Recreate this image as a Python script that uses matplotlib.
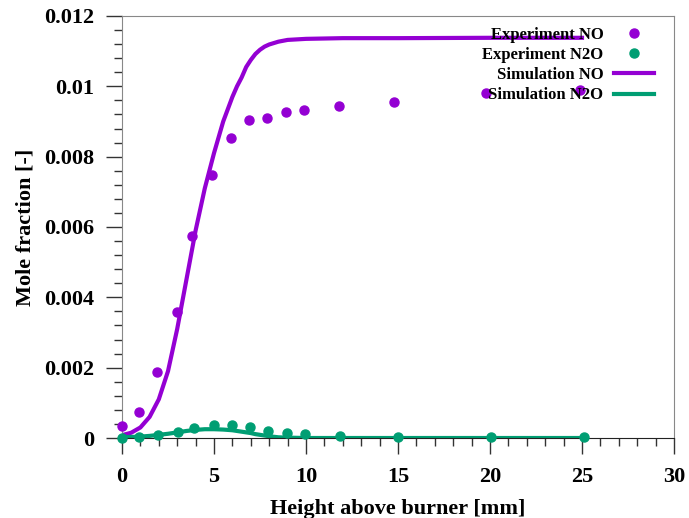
import matplotlib
matplotlib.use('Agg')
import matplotlib.pyplot as plt
import matplotlib.ticker as ticker

plt.rcParams['font.family'] = ['Liberation Serif', 'DejaVu Serif']
plt.rcParams['font.weight'] = 'bold'

# Experimental data
exp_no_x = [0, 0.9, 1.9, 3.0, 3.8, 4.9, 5.95, 6.9, 7.9, 8.9, 9.9, 11.8, 14.8, 19.8, 24.9]
exp_no_y = [0.00034, 0.00074, 0.00188, 0.00357, 0.00575, 0.00747, 0.00853, 0.00904,
            0.00909, 0.00928, 0.00934, 0.00944, 0.00955, 0.0098, 0.0099]
exp_n2o_x = [0, 0.9, 1.95, 3.05, 3.9, 5.0, 6.0, 6.95, 7.95, 8.95, 9.95, 11.85, 15.0, 20.05, 25.1]
exp_n2o_y = [0.0, 0.00002, 0.00008, 0.00017, 0.00029, 0.00036, 0.00036, 0.0003,
             0.00019, 0.00013, 0.0001, 0.00005, 0.00004, 0.00002, 0.00002]

# Simulation data
sim_x = [0, 0.5, 1, 1.5, 2, 2.5, 3, 3.5, 4, 4.5, 5, 5.5, 6, 6.25, 6.5, 6.75, 7, 7.25, 7.5,
         7.75, 8, 8.5, 9, 10, 12, 15, 20, 25]
sim_no = [0.00008, 0.00015, 0.0003, 0.0006, 0.0011, 0.0019, 0.0031, 0.0045, 0.0059, 0.0071,
          0.0081, 0.0090, 0.0097, 0.0100, 0.01025, 0.01055, 0.01075, 0.01092, 0.01104,
          0.01113, 0.01119, 0.01127, 0.01132, 0.01135, 0.01137, 0.01137, 0.01138, 0.01138]
sim_n2o = [0.00002, 0.00003, 0.00004, 0.00006, 0.00009, 0.00012, 0.00016, 0.0002, 0.00023, 0.00025,
           0.00025, 0.00024, 0.00022, 0.0002, 0.00018, 0.00016, 0.00014, 0.00011, 0.00009,
           0.00007, 0.00005, 0.00002, 0.00001, 0.0, 0.0, 0.0, 0.0, 0.0]

purple = '#9400D3'
green = '#009E73'

fig = plt.figure(figsize=(6.89, 5.18), dpi=100)
ax = fig.add_axes([122 / 689, 1 - 438 / 518, (674 - 122) / 689, (438 - 16) / 518])

ax.plot(exp_no_x, exp_no_y, 'o', color=purple, markersize=6.5, label='Experiment NO', clip_on=False, zorder=3)
ax.plot(exp_n2o_x, exp_n2o_y, 'o', color=green, markersize=6.5, label='Experiment N2O', clip_on=False, zorder=3)
ax.plot(sim_x, sim_no, '-', color=purple, linewidth=3, label='Simulation NO', zorder=2)
ax.plot(sim_x, sim_n2o, '-', color=green, linewidth=3, label='Simulation N2O', zorder=2)

ax.set_xlim(0, 30)
ax.set_ylim(0, 0.012)
ax.xaxis.set_major_locator(ticker.MultipleLocator(5))
ax.xaxis.set_minor_locator(ticker.MultipleLocator(1))
ax.yaxis.set_major_locator(ticker.MultipleLocator(0.002))
ax.yaxis.set_minor_locator(ticker.MultipleLocator(0.0004))
ax.yaxis.set_major_formatter(ticker.FuncFormatter(lambda v, p: '0' if v == 0 else f'{v:g}'))

ax.tick_params(which='major', direction='out', length=11.5, width=1, color='#333333',
               labelsize=16)
ax.tick_params(which='minor', direction='out', length=6, width=1, color='#333333')
ax.tick_params(axis='x', which='major', pad=9.5)
ax.tick_params(axis='y', which='major', pad=8.5)

for s in ['left', 'top', 'right']:
    ax.spines[s].set_color('#888888')
ax.spines['bottom'].set_color('#222222')

ax.set_xlabel('Height above burner [mm]', fontsize=16, fontweight='bold', labelpad=8.5)
ax.set_ylabel('Mole fraction [-]', fontsize=16, fontweight='bold', labelpad=6.5)

leg = ax.legend(loc='upper right', frameon=False, markerfirst=False, fontsize=12,
                handlelength=2.4, handletextpad=0.6, labelspacing=0.25,
                borderaxespad=0.2, bbox_to_anchor=(0.981, 0.998))
for t in leg.get_texts():
    t.set_fontweight('bold')

plt.savefig('out.png', dpi=100)
